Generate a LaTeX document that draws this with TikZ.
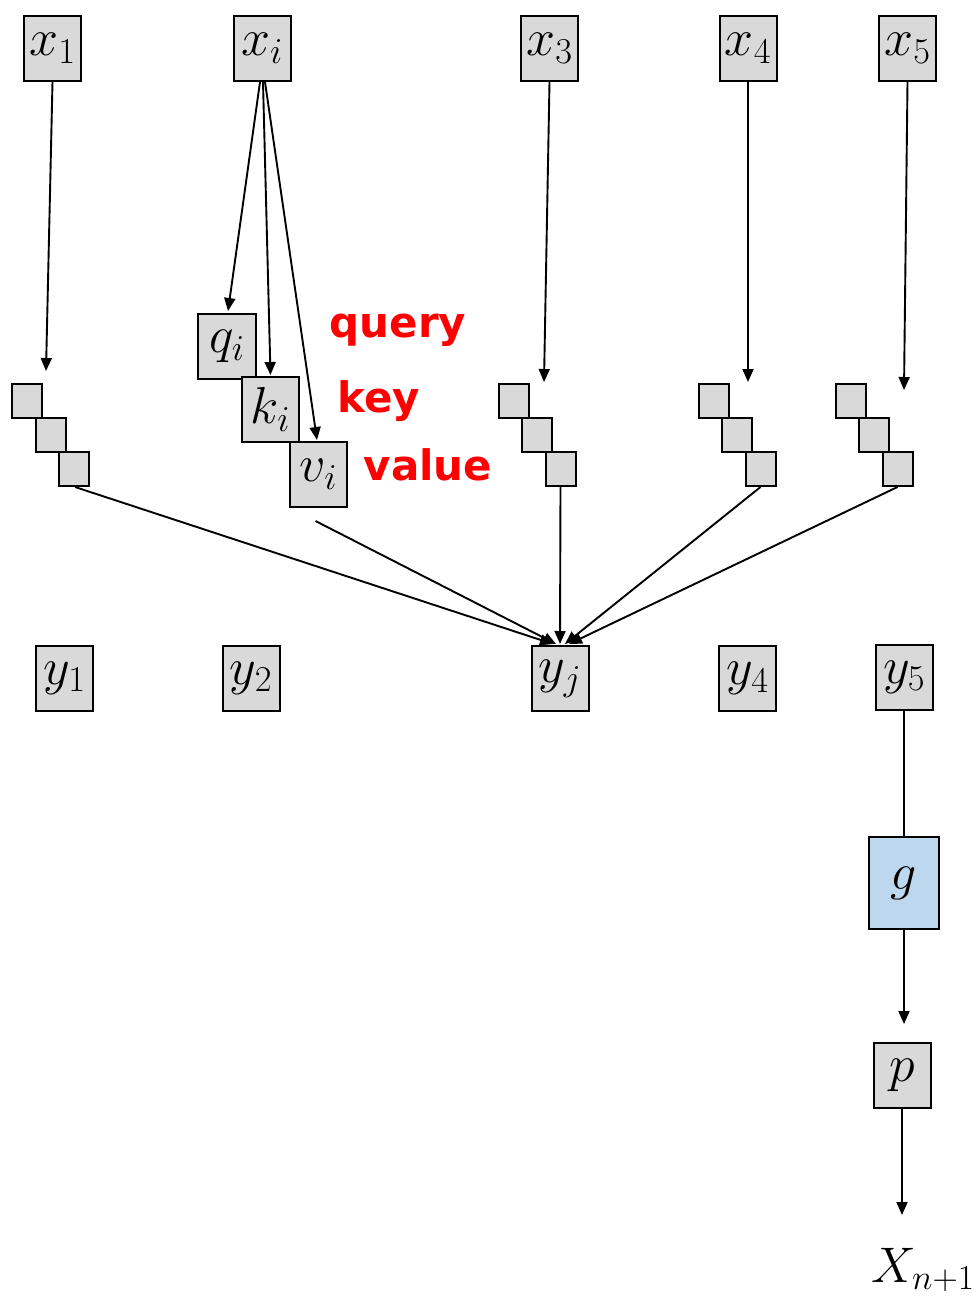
\RequirePackage{fix-cm}
\documentclass[tikz,border=0pt]{standalone}
\usepackage{fontspec}
\newfontfamily\handfont{DejaVu Sans}
\usetikzlibrary{arrows.meta}
\definecolor{boxgray}{HTML}{D9D9D9}
\definecolor{gblue}{HTML}{BDD7EE}
\definecolor{hred}{HTML}{FF0000}
\begin{document}
\begin{tikzpicture}[x=1pt,y=-1pt,
  box/.style={draw=black,line width=2pt,fill=boxgray,inner sep=0pt,minimum width=57pt,minimum height=65pt,font=\fontsize{52}{56}\selectfont},
  sq/.style={draw=black,line width=2pt,fill=boxgray,inner sep=0pt,minimum width=30pt,minimum height=34pt},
  arr/.style={line width=1.9pt,-{Triangle[length=13pt,width=11pt]}},
  ln/.style={line width=1.9pt},
  hand/.style={text=hred,font=\handfont\bfseries\fontsize{42}{46}\selectfont}]
\useasboundingbox (0,0) rectangle (975,1297);
% inputs
\node[box] (x1) at (52.5,48.5) {$x_1$};
\node[box] (xi) at (262,48.5) {$x_i$};
\node[box] (x3) at (549.5,48.5) {$x_3$};
\node[box] (x4) at (748,48.5) {$x_4$};
\node[box] (x5) at (907.5,48.5) {$x_5$};
% stacks
\foreach \n/\x in {1/27,3/513.5,4/713.5,5/850.5}{
  \node[sq] (s\n a) at (\x,401) {};
  \node[sq] (s\n b) at (\x+23.5,435) {};
  \node[sq] (s\n c) at (\x+47,469) {};
}
% q k v
\node[box,minimum width=58pt] (q) at (227,346.5) {$q_i$};
\node[box] (k) at (270.5,409.5) {$k_i$};
\node[box] (v) at (318.5,474.5) {$v_i$};
% labels
\node[hand] (lq) at (398,330) {query};
\node[hand] (lk) at (379,401) {key};
\node[hand] (lv) at (428,465) {value};
% outputs
\node[box] (y1) at (64.5,678) {$y_1$};
\node[box] (y2) at (251,678) {$y_2$};
\node[box] (yj) at (560,678.5) {$y_j$};
\node[box] (y4) at (747.5,678.5) {$y_4$};
\node[box] (y5) at (904,677) {$y_5$};
\node[box,fill=gblue,minimum width=70pt,minimum height=92pt] (g) at (904,883) {$g$};
\node[box] (p) at (902,1075) {$p$};
\node[font=\fontsize{50}{54}\selectfont,inner sep=0pt] (X) at (923,1270) {$X_{n+1}$};
% coordinates for free ends
\coordinate (t1) at (46,371);
\coordinate (t3) at (544,382);
\coordinate (t4) at (748,382);
\coordinate (t5) at (904,390);
\coordinate (tg) at (904,1024);
\coordinate (tp) at (902,1215);
% arrows from inputs
\draw[arr] (x1.south) -- (t1);
\draw[arr] (x3.south) -- (t3);
\draw[arr] (x4.south) -- (t4);
\draw[arr] (x5.south) -- (t5);
\draw[arr] ([xshift=-2pt]xi.south) -- ([xshift=1pt,yshift=2pt]q.north);
\draw[arr] ([xshift=1pt]xi.south) -- ([yshift=1pt]k.north);
\draw[arr] ([xshift=3pt]xi.south) -- ([xshift=-1.5pt,yshift=1pt]v.north);
% into y_j
\draw[arr] ([xshift=1pt]s1c.south) -- ([xshift=-7pt,yshift=1pt]yj.north);
\draw[arr] ([xshift=-3pt,yshift=-13pt]v.south) -- ([xshift=-4pt,yshift=1pt]yj.north);
\draw[arr] (s3c.south) -- ([yshift=1pt]yj.north);
\draw[arr] (s4c.south) -- ([xshift=5pt,yshift=1pt]yj.north);
\draw[arr] (s5c.south) -- ([xshift=9pt,yshift=1pt]yj.north);
% output chain
\draw[ln] (y5.south) -- (g.north);
\draw[arr] (g.south) -- (tg);
\draw[arr] (p.south) -- (tp);
\end{tikzpicture}
\end{document}
